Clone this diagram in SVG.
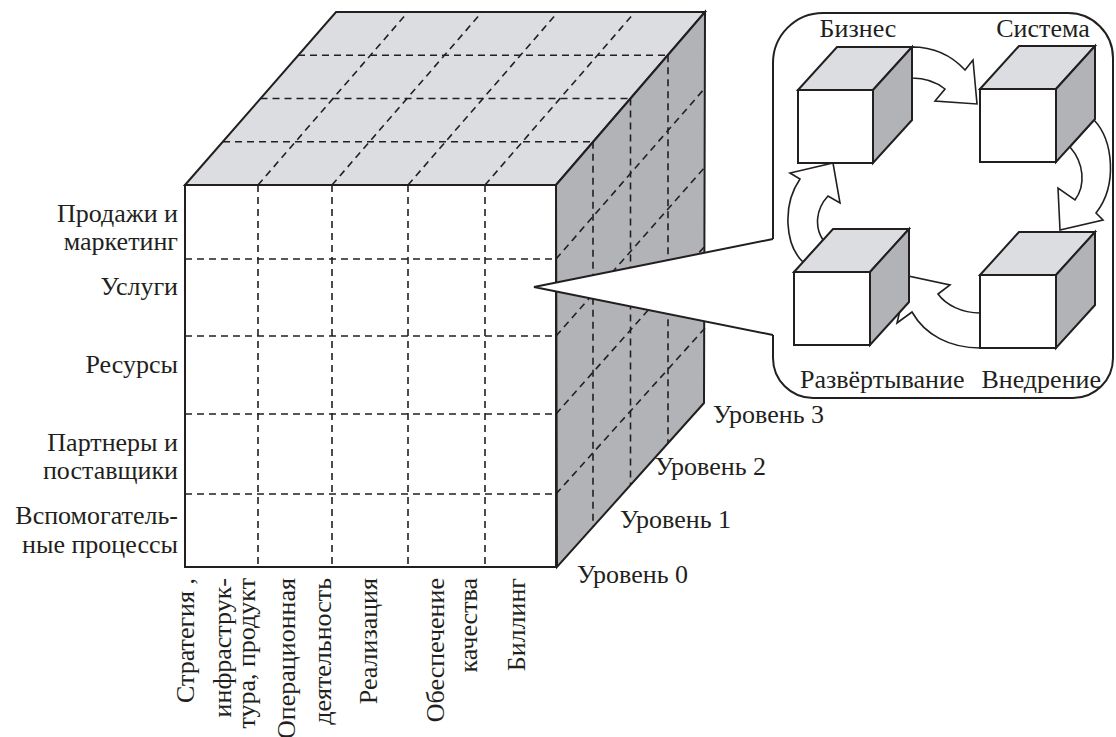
<svg xmlns="http://www.w3.org/2000/svg" width="1116" height="737" viewBox="0 0 1116 737">
<style>
.solid{fill:none;stroke:#231f20;stroke-width:2;stroke-linejoin:miter}
.dash{fill:none;stroke:#231f20;stroke-width:1.6;stroke-dasharray:7 5}
.top{fill:#dcdde0;stroke:#231f20;stroke-width:2}
.side{fill:#b2b3b6;stroke:#231f20;stroke-width:2}
.front{fill:#ffffff;stroke:#231f20;stroke-width:2}
.arrow{fill:#ffffff;stroke:#231f20;stroke-width:1.6;stroke-linejoin:miter}
.t{font-family:'Liberation Serif','DejaVu Serif',serif;font-size:26px;fill:#231f20}
.r{text-anchor:end}
.m{text-anchor:middle}
</style>
<rect width="1116" height="737" fill="#ffffff"/>

<g id="cube">
  <polygon class="top" points="185,185 336,12 705,12 556,185"/>
  <polygon class="side" points="556,185 705,12 704,403 557,567"/>
  <rect class="front" x="185" y="185" width="371" height="382"/>
  <g class="dash">
    <line x1="258" y1="185" x2="258" y2="567"/>
    <line x1="332" y1="185" x2="332" y2="567"/>
    <line x1="408" y1="185" x2="408" y2="567"/>
    <line x1="485" y1="185" x2="485" y2="567"/>
    <line x1="185" y1="259" x2="556" y2="259"/>
    <line x1="185" y1="336" x2="556" y2="336"/>
    <line x1="185" y1="414" x2="556" y2="414"/>
    <line x1="185" y1="494" x2="556" y2="494"/>
    <line x1="258" y1="185" x2="408" y2="12"/>
    <line x1="332" y1="185" x2="482" y2="12"/>
    <line x1="408" y1="185" x2="558" y2="12"/>
    <line x1="485" y1="185" x2="635" y2="12"/>
    <line x1="223" y1="141.75" x2="593" y2="141.75"/>
    <line x1="260.5" y1="98.5" x2="630.5" y2="98.5"/>
    <line x1="298" y1="55.25" x2="668" y2="55.25"/>
    <line x1="593" y1="141.75" x2="593" y2="526"/>
    <line x1="630.5" y1="98.5" x2="630.5" y2="485"/>
    <line x1="668" y1="55.25" x2="668" y2="444"/>
    <line x1="556" y1="259" x2="705" y2="88"/>
    <line x1="556" y1="336" x2="705" y2="167"/>
    <line x1="556" y1="414" x2="705" y2="246"/>
    <line x1="556" y1="494" x2="705" y2="328"/>
  </g>
</g>

<g id="row-labels" class="t r">
  <text x="178" y="222">Продажи и</text>
  <text x="178" y="250">маркетинг</text>
  <text x="178" y="295">Услуги</text>
  <text x="178" y="373">Ресурсы</text>
  <text x="178" y="451">Партнеры и</text>
  <text x="178" y="479">поставщики</text>
  <text x="178" y="524">Вспомогатель-</text>
  <text x="178" y="553">ные процессы</text>
</g>

<g id="column-labels" class="t r">
  <text transform="translate(194,578) rotate(-90)">Стратегия ,</text>
  <text transform="translate(231,578) rotate(-90)">инфраструк-</text>
  <text transform="translate(255,578) rotate(-90)">тура, продукт</text>
  <text transform="translate(295,578) rotate(-90)">Операционная</text>
  <text transform="translate(331,578) rotate(-90)">деятельность</text>
  <text transform="translate(377,578) rotate(-90)">Реализация</text>
  <text transform="translate(444,578) rotate(-90)">Обеспечение</text>
  <text transform="translate(477,578) rotate(-90)">качества</text>
  <text transform="translate(525,578) rotate(-90)">Биллинг</text>
</g>

<g id="level-labels" class="t">
  <text x="713" y="423">Уровень 3</text>
  <text x="655" y="475">Уровень 2</text>
  <text x="620" y="528">Уровень 1</text>
  <text x="577" y="583">Уровень 0</text>
</g>

<g id="callout">
  <path class="solid" fill="#ffffff" d="M773,239 L773,63 A50,50 0 0 1 823,13 L1068,13 A45,45 0 0 1 1113,58 L1113,358 A40,40 0 0 1 1073,398 L813,398 A40,40 0 0 1 773,358 L773,335"/>
  <polygon points="534,287 773,239 773,335" fill="#ffffff"/>
  <polyline class="solid" points="773,239 534,287 773,335"/>
</g>

<g id="connectors">
  <path class="arrow" d="M912,47 C935,47 953,57 965,70 L973,60 L977,104 L935,101 L945,89 C935,81 925,78 912,78 Z"/>
  <path class="arrow" d="M1094,120 C1113,140 1118,185 1096,213 L1103,220 L1060,230 L1058,188 L1075,200 C1086,185 1084,163 1070,147 Z"/>
  <path class="arrow" d="M980,313 C962,313 946,305 938,294 L950,285 L908,276 L897,323 L912,312 C925,335 950,348 980,348 Z"/>
  <path class="arrow" d="M803,262 C785,245 782,205 800,179 L790,173 L833,163 L840,203 L828,196 C815,210 815,228 823,240 Z"/>
</g>

<g id="node-business">
  <polygon class="top" points="798,90 837,47 912,47 873,90"/>
  <polygon class="side" points="873,90 912,47 912,120 873,163"/>
  <rect class="front" x="798" y="90" width="75" height="73"/>
  <text class="t m" x="858" y="37">Бизнес</text>
</g>
<g id="node-system">
  <polygon class="top" points="980,89 1019,46 1095,46 1056,89"/>
  <polygon class="side" points="1056,89 1095,46 1095,119 1056,162"/>
  <rect class="front" x="980" y="89" width="76" height="73"/>
  <text class="t m" x="1043" y="37">Система</text>
</g>
<g id="node-deploy">
  <polygon class="top" points="794,272 833,229 909,229 870,272"/>
  <polygon class="side" points="870,272 909,229 909,302 870,345"/>
  <rect class="front" x="794" y="272" width="76" height="73"/>
  <text class="t" x="800" y="388">Развёртывание</text>
</g>
<g id="node-implement">
  <polygon class="top" points="980,275 1019,232 1095,232 1056,275"/>
  <polygon class="side" points="1056,275 1095,232 1095,305 1056,348"/>
  <rect class="front" x="980" y="275" width="76" height="73"/>
  <text class="t r" x="1101" y="388">Внедрение</text>
</g>
</svg>
